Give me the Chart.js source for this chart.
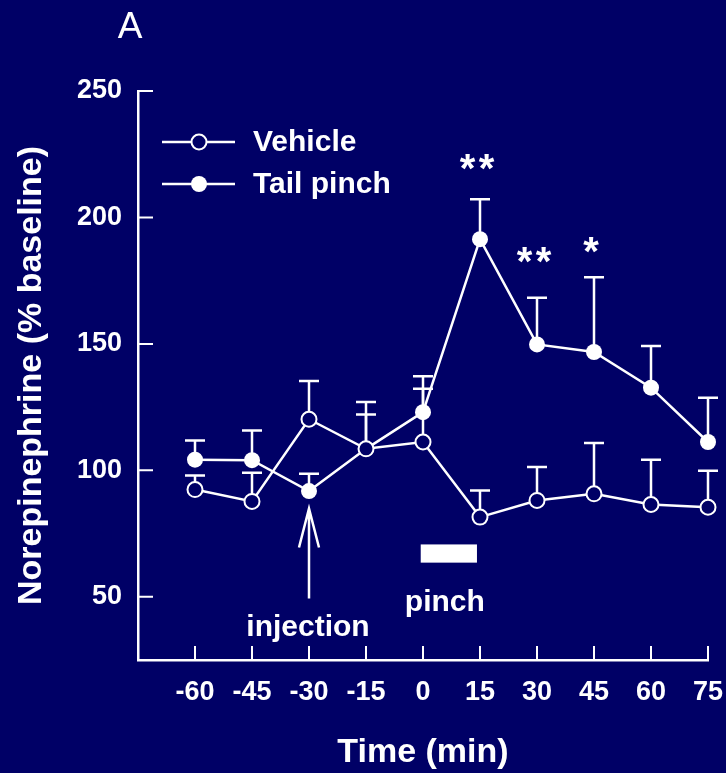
<!DOCTYPE html>
<html>
<head>
<meta charset="utf-8">
<script src="https://cdn.jsdelivr.net/npm/chart.js@4/dist/chart.umd.min.js"></script>
<style>
  html, body { margin: 0; padding: 0; background: #000066; }
  canvas { display: block; }
</style>
</head>
<body>
<canvas id="chart" width="726" height="773"></canvas>
<script>
// time points (min) and axis ticks
var times = [-60, -45, -30, -15, 0, 15, 30, 45, 60, 75];
var xTicks = [-60, -45, -30, -15, 0, 15, 30, 45, 60, 75];
var yTicks = [50, 100, 150, 200, 250];

// norepinephrine, % baseline : mean and upper error (SEM)
var vehicleMean = [92.4, 87.7, 120.2, 108.5, 111.2, 81.5, 88.1, 90.7, 86.5, 85.4];
var vehicleSem  = [5.6, 11.3, 15.1, 13.6, 21.1, 10.5, 13.2, 20.1, 17.7, 14.4];
var pinchMean   = [104.2, 104.0, 91.8, 108.5, 123.0, 191.4, 149.8, 146.8, 132.7, 111.2];
var pinchSem    = [7.6, 11.8, 6.8, 18.5, 14.2, 15.8, 18.4, 29.6, 16.5, 17.5];

// significance marks (time, label, level in % baseline)
var sigTimes  = [15, 30, 45];
var sigLabels = ['**', '**', '*'];
var sigLevels = [222, 185, 189];

// pinch period bar, injection arrow (axis units)
var pinchBarTimes = [-0.6, 14.2];
var pinchBarLevels = [63.5, 70.7];
var injectionTime = -30;
var arrowLevels = [49.3, 84.9];

var NAVY = '#000066';
var WHITE = '#ffffff';
var FONT = "'Liberation Sans', Arial, Helvetica, sans-serif";

function bold(size) { return 'bold ' + size + 'px ' + FONT; }

var decor = {
  id: 'decor',

  beforeDraw: function (chart) {
    var ctx = chart.ctx;
    ctx.save();
    ctx.fillStyle = NAVY;
    ctx.fillRect(0, 0, chart.width, chart.height);
    ctx.restore();
  },

  beforeDatasetsDraw: function (chart) {
    var ctx = chart.ctx, x = chart.scales.x, y = chart.scales.y;
    ctx.save();
    ctx.strokeStyle = WHITE;

    // tick marks point into the plot
    ctx.lineWidth = 2;
    ctx.beginPath();
    xTicks.forEach(function (t) {
      var px = x.getPixelForValue(t);
      ctx.moveTo(px, y.bottom);
      ctx.lineTo(px, y.bottom - 14);
    });
    yTicks.forEach(function (t) {
      var py = y.getPixelForValue(t);
      ctx.moveTo(x.left, py);
      ctx.lineTo(x.left + 15, py);
    });
    ctx.stroke();

    // error bars, upper half only
    ctx.lineWidth = 2.5;
    chart.data.datasets.forEach(function (ds) {
      ds.data.forEach(function (p, i) {
        var px = x.getPixelForValue(p.x);
        var y0 = y.getPixelForValue(p.y);
        var y1 = y.getPixelForValue(p.y + ds.sem[i]);
        ctx.beginPath();
        ctx.moveTo(px, y0);
        ctx.lineTo(px, y1);
        ctx.moveTo(px - 10, y1);
        ctx.lineTo(px + 10, y1);
        ctx.stroke();
      });
    });
    ctx.restore();
  },

  afterDatasetsDraw: function (chart) {
    var ctx = chart.ctx, x = chart.scales.x, y = chart.scales.y;
    ctx.save();
    ctx.fillStyle = WHITE;
    ctx.strokeStyle = WHITE;

    // significance stars
    ctx.font = bold(40);
    ctx.textAlign = 'center';
    ctx.textBaseline = 'alphabetic';
    sigTimes.forEach(function (t, i) {
      var px = x.getPixelForValue(t) - 3;
      var py = y.getPixelForValue(sigLevels[i]) + 20;
      var n = sigLabels[i].length;
      for (var k = 0; k < n; k++) {
        ctx.fillText('*', px + (k - (n - 1) / 2) * 19, py);
      }
    });

    // pinch bar + label
    var bx0 = x.getPixelForValue(pinchBarTimes[0]), bx1 = x.getPixelForValue(pinchBarTimes[1]);
    var by0 = y.getPixelForValue(pinchBarLevels[1]), by1 = y.getPixelForValue(pinchBarLevels[0]);
    ctx.fillRect(bx0, by0, bx1 - bx0, by1 - by0);
    ctx.font = bold(30);
    ctx.fillText('pinch', (bx0 + bx1) / 2 - 4, by1 + 48);

    // injection arrow + label
    var ax = x.getPixelForValue(injectionTime);
    var tip = y.getPixelForValue(arrowLevels[1]), tail = y.getPixelForValue(arrowLevels[0]);
    ctx.lineWidth = 2.5;
    ctx.beginPath();
    ctx.moveTo(ax, tail);
    ctx.lineTo(ax, tip);
    ctx.moveTo(ax - 10, tip + 39);
    ctx.lineTo(ax, tip);
    ctx.lineTo(ax + 10, tip + 39);
    ctx.stroke();
    ctx.fillText('injection', ax - 1, tail + 37);

    // panel letter
    ctx.font = '37px ' + FONT;
    ctx.fillText('A', 130, 38);

    // legend inside the plot
    ctx.textAlign = 'left';
    ctx.textBaseline = 'middle';
    ctx.font = bold(30);
    chart.data.datasets.forEach(function (ds, i) {
      var ly = 142 + i * 42;
      ctx.lineWidth = ds.borderWidth;
      ctx.beginPath();
      ctx.moveTo(162, ly);
      ctx.lineTo(235, ly);
      ctx.stroke();
      ctx.beginPath();
      ctx.arc(199, ly, ds.pointRadius, 0, Math.PI * 2);
      ctx.fillStyle = ds.pointBackgroundColor;
      ctx.fill();
      if (ds.pointBorderWidth) {
        ctx.lineWidth = ds.pointBorderWidth;
        ctx.stroke();
      }
      ctx.fillStyle = WHITE;
      ctx.fillText(ds.label, 253, ly + 1);
    });

    ctx.restore();
  }
};

function points(means) {
  return times.map(function (t, i) { return { x: t, y: means[i] }; });
}

new Chart(document.getElementById('chart'), {
  type: 'line',
  data: {
    datasets: [
      {
        label: 'Vehicle',
        data: points(vehicleMean),
        sem: vehicleSem,
        borderColor: WHITE,
        borderWidth: 2.5,
        pointRadius: 7.5,
        pointBackgroundColor: NAVY,
        pointBorderColor: WHITE,
        pointBorderWidth: 2,
        clip: false
      },
      {
        label: 'Tail pinch',
        data: points(pinchMean),
        sem: pinchSem,
        borderColor: WHITE,
        borderWidth: 2.5,
        pointRadius: 8,
        pointBackgroundColor: WHITE,
        pointBorderColor: WHITE,
        pointBorderWidth: 0,
        clip: false
      }
    ]
  },
  options: {
    responsive: false,
    animation: false,
    devicePixelRatio: 1,
    events: [],
    layout: { padding: { left: 0, top: 91, right: 18, bottom: 0 } },
    plugins: {
      legend: { display: false },
      tooltip: { enabled: false }
    },
    scales: {
      x: {
        type: 'linear',
        min: -75,
        max: 75,
        afterBuildTicks: function (scale) {
          scale.ticks = xTicks.map(function (v) { return { value: v }; });
        },
        afterFit: function (scale) {
          scale.height = 113;
          scale.paddingLeft = 0;
          scale.paddingRight = 0;
        },
        grid: { display: false, drawTicks: false },
        border: { display: true, color: WHITE, width: 2.5 },
        ticks: {
          color: WHITE,
          font: { family: FONT, size: 27, weight: 'bold' },
          padding: 16,
          maxRotation: 0,
          autoSkip: false
        },
        title: {
          display: true,
          text: 'Time (min)',
          color: WHITE,
          font: { family: FONT, size: 34, weight: 'bold' },
          padding: { top: 24, bottom: 0 }
        }
      },
      y: {
        type: 'linear',
        min: 25,
        max: 250,
        afterBuildTicks: function (scale) {
          scale.ticks = yTicks.map(function (v) { return { value: v }; });
        },
        afterFit: function (scale) {
          scale.width = 138;
        },
        grid: { display: false, drawTicks: false },
        border: { display: true, color: WHITE, width: 2.5 },
        ticks: {
          color: WHITE,
          font: { family: FONT, size: 27, weight: 'bold' },
          padding: 16
        },
        title: {
          display: true,
          text: 'Norepinephrine (% baseline)',
          color: WHITE,
          font: { family: FONT, size: 34, weight: 'bold' },
          padding: { top: 11, bottom: 25 }
        }
      }
    }
  },
  plugins: [decor]
});
</script>
</body>
</html>
